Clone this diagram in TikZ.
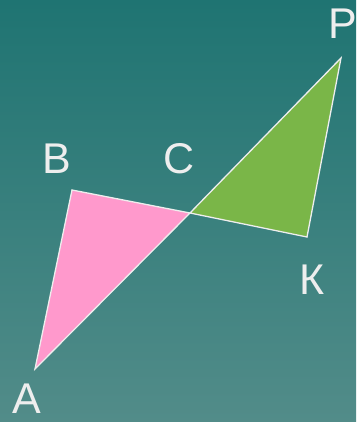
\documentclass[tikz,border=0pt]{standalone}
\usepackage{fontspec}
\setmainfont{Liberation Sans}
\usetikzlibrary{positioning}
\definecolor{bgtop}{HTML}{1F7472}
\definecolor{bgbot}{HTML}{528C89}
\definecolor{trpink}{HTML}{FF99CC}
\definecolor{trgreen}{HTML}{7AB648}
\definecolor{rim}{HTML}{EEEEEE}
\tikzset{
  tri/.style={draw=rim, line width=1.3pt, line join=miter},
  lbl/.style={text=rim, inner sep=0pt, font=\fontsize{43}{43}\selectfont},
}
\begin{document}
\begin{tikzpicture}[x=1pt, y=1pt]
    \useasboundingbox (0,0) rectangle (356,422);
    \shade[top color=bgtop, bottom color=bgbot] (0,0) rectangle (356,422);
    % vertices
    \coordinate (A) at (35,53);
    \coordinate (B) at (72,232);
    \coordinate (C) at (190,209);
    \coordinate (P) at (341,364);
    \coordinate (K) at (307,185);
    \filldraw[tri, fill=trpink] (A) -- (B) -- (C) -- cycle;
    \filldraw[tri, fill=trgreen] (C) -- (P) -- (K) -- cycle;
    % letters
    \node[lbl] (lA) at (27,23) {А};
    \node[lbl] (lB) at (57,263) {В};
    \node[lbl] (lC) at (179,263) {С};
    \node[lbl] (lP) at (343,398) {Р};
    \node[lbl] (lK) at (312,142) {К};
\end{tikzpicture}
\end{document}
